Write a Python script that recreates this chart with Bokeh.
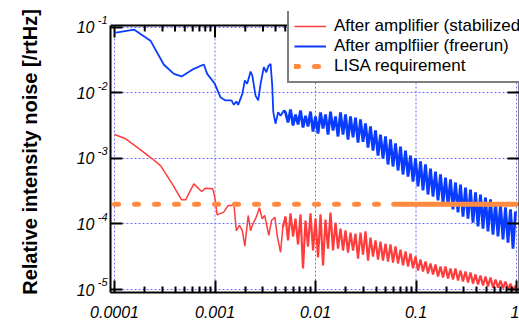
import numpy as np
from bokeh.plotting import figure
from bokeh.models import (LogAxis, FixedTicker, CustomJSTickFormatter, Legend,
                          LegendItem, Range1d, Span)
from bokeh.embed import file_html
from bokeh.resources import INLINE

# ---------------- data ----------------
# freerun trace, low-frequency part
blue_f_lo = [1.0e-4, 1.56e-4, 2.28e-4, 3.1e-4, 3.9e-4, 4.65e-4, 6.15e-4, 7.74e-4, 8.36e-4,
             9.95e-4, 1.135e-3, 1.27e-3, 1.46e-3, 1.54e-3, 1.63e-3, 1.70e-3, 1.87e-3,
             1.98e-3, 2.09e-3, 2.26e-3, 2.35e-3, 2.53e-3, 2.69e-3, 2.84e-3, 3.06e-3,
             3.24e-3, 3.39e-3, 3.57e-3, 3.71e-3, 3.80e-3, 4.0e-3, 4.25e-3, 4.49e-3, 4.84e-3]
blue_v_lo = [0.083, 0.093, 0.063, 0.027, 0.0196, 0.0179, 0.0234, 0.0272, 0.0196,
             0.0138, 0.0086, 0.0077, 0.0077, 0.0066, 0.0074, 0.0066, 0.0097,
             0.0155, 0.0138, 0.0213, 0.0185, 0.0091, 0.0077, 0.0138, 0.0248,
             0.0207, 0.0257, 0.0279, 0.013, 0.0051, 0.0034, 0.0051, 0.0045, 0.0054]

# freerun trace, dense high-frequency part (5 mHz .. 1 Hz)
blue_v_hf = [5.04e-3, 3.55e-3, 5.6e-3, 3.19e-3, 4.7e-3, 3.31e-3, 5.4e-3, 2.97e-3, 4.5e-3, 3.08e-3,
             5.2e-3, 2.58e-3, 4.38e-3, 2.41e-3, 5.04e-3, 2.87e-3, 4.7e-3, 2.32e-3, 5.2e-3, 2.68e-3,
             4.38e-3, 2.17e-3, 5.04e-3, 2.32e-3, 4.7e-3, 1.95e-3, 4.38e-3, 2.1e-3, 4.2e-3, 1.75e-3,
             3.95e-3, 1.8e-3, 3.43e-3, 1.47e-3, 3.08e-3, 1.32e-3, 2.68e-3, 1.11e-3, 2.32e-3, 1.0e-3,
             2.17e-3, 8.1e-4, 1.95e-3, 7.55e-4, 1.7e-3, 6.56e-4, 1.52e-3, 5.7e-4, 1.32e-3, 5.3e-4,
             1.11e-3, 4.45e-4, 1.0e-3, 3.74e-4, 9.0e-4, 3.25e-4, 8.1e-4, 2.82e-4, 7.0e-4, 2.63e-4,
             6.3e-4, 2.29e-4, 5.7e-4, 2.06e-4, 5.1e-4, 1.92e-4, 4.8e-4, 1.67e-4, 4.3e-4, 1.5e-4,
             4.0e-4, 1.3e-4, 3.6e-4, 1.21e-4, 3.36e-4, 1.05e-4, 3.03e-4, 9.2e-5, 2.82e-4, 8.5e-5,
             2.54e-4, 7.7e-5, 2.37e-4, 6.9e-5, 2.13e-4, 6.45e-5, 1.99e-4, 5.8e-5, 1.79e-4, 5.2e-5,
             1.67e-4, 4.2e-5, 1.55e-4]

# stabilized trace, low-frequency part
red_f_lo = [1.0e-4, 1.29e-4, 1.75e-4, 2.37e-4, 2.87e-4, 3.75e-4, 4.65e-4, 5.1e-4, 6.15e-4,
            7.35e-4, 8.05e-4, 9.5e-4, 9.95e-4, 1.05e-3, 1.22e-3, 1.35e-3, 1.46e-3, 1.54e-3,
            1.63e-3, 1.75e-3, 1.87e-3, 1.98e-3, 2.14e-3, 2.26e-3, 2.38e-3, 2.57e-3, 2.77e-3,
            2.95e-3, 3.12e-3, 3.43e-3, 3.65e-3, 3.94e-3, 4.15e-3, 4.49e-3, 4.73e-3]
red_v_lo = [2.32e-3, 2.0e-3, 1.41e-3, 9.9e-4, 7.8e-4, 4.1e-4, 2.34e-4, 2.34e-4, 4.1e-4,
            3.13e-4, 3.52e-4, 3.44e-4, 2.57e-4, 1.38e-4, 1.52e-4, 1.91e-4, 1.91e-4, 2.04e-4,
            7.9e-5, 9.5e-5, 7.9e-5, 4.6e-5, 1.35e-4, 7.9e-5, 1.0e-4, 1.27e-4, 1.77e-4,
            1.2e-4, 1.35e-4, 6.7e-5, 1.13e-4, 1.27e-4, 6.7e-5, 3.7e-5, 8.9e-5]

# stabilized trace, dense high-frequency part (5 mHz .. 1 Hz)
red_v_hf = [1.3e-4, 5.6e-5, 1.45e-4, 6.45e-5, 1.21e-4, 4.86e-5, 1.4e-4, 2.1e-5, 1.13e-4, 4.53e-5,
            1.45e-4, 3.94e-5, 1.21e-4, 3.08e-5, 1.4e-4, 2.33e-5, 1.17e-4, 4.2e-5, 1.5e-4, 3.94e-5,
            1.05e-4, 4.2e-5, 8.5e-5, 3.94e-5, 7.96e-5, 3.67e-5, 7.4e-5, 3.94e-5, 7.15e-5, 2.97e-5,
            7.4e-5, 3.42e-5, 7.7e-5, 2.77e-5, 6.2e-5, 3.19e-5, 5.6e-5, 2.87e-5, 5.4e-5, 2.77e-5,
            5.0e-5, 2.67e-5, 4.86e-5, 2.58e-5, 4.53e-5, 2.5e-5, 4.07e-5, 2.33e-5, 3.8e-5, 2.25e-5,
            3.55e-5, 2.1e-5, 3.19e-5, 1.95e-5, 2.87e-5, 1.88e-5, 2.67e-5, 1.76e-5, 2.5e-5, 1.7e-5,
            2.41e-5, 1.58e-5, 2.25e-5, 1.52e-5, 2.25e-5, 1.47e-5, 2.1e-5, 1.42e-5, 2.1e-5, 1.37e-5,
            1.95e-5, 1.32e-5, 1.88e-5, 1.28e-5, 1.82e-5, 1.23e-5, 1.7e-5, 1.19e-5, 1.64e-5, 1.15e-5,
            1.58e-5, 1.11e-5, 1.52e-5, 1.07e-5, 1.42e-5, 1.07e-5, 1.37e-5, 1.04e-5, 1.32e-5, 1.0e-5,
            1.23e-5, 9.7e-6, 1.15e-5]

hf_f_start, hf_f_stop = 5.03e-3, 0.977

# LISA requirement
lisa_f = [1.0e-4, 0.06, 1.0]
lisa_v = [2.0e-4, 2.0e-4, 2.0e-4]

series_labels = ["After amplifier (stabilized)", "After amplfiier (freerun)", "LISA requirement"]

x_ticks = [1e-4, 1e-3, 1e-2, 1e-1, 1.0]
x_tick_labels = ["0.0001", "0.001", "0.01", "0.1", "1"]
y_ticks = [1e-5, 1e-4, 1e-3, 1e-2, 1e-1]
y_tick_labels = ["10", "10", "10", "10", "10"]
y_tick_exponents = ["-5", "-4", "-3", "-2", "-1"]

# ---------------- build ----------------
hf_f = list(np.geomspace(hf_f_start, hf_f_stop, len(blue_v_hf)))
blue_f = blue_f_lo + hf_f
blue_v = blue_v_lo + blue_v_hf
red_f = red_f_lo + hf_f
red_v = red_v_lo + red_v_hf
n_b = len(blue_f_lo)
n_r = len(red_f_lo)

FONT = "Liberation Sans"
BLUE = "#0A3CFF"
RED = "#FF3C3C"
ORANGE = "#FF8A40"
GRID = "#6E6EFF"

PX_DEC_Y = 65.5                 # pixels per decade on the y axis
X0, X1 = 9.12e-5, 1.071
Y0 = 9.0e-6
Y_AX = 0.1073                   # level of the top axis line
Y1 = 0.1754                     # frame reaches a little above it (room for the legend)
TICK_MAJ = 10 ** (-12 / PX_DEC_Y)
TICK_MIN = 10 ** (-6 / PX_DEC_Y)

p = figure(width=519, height=335, x_axis_type="log", y_axis_type="log",
           x_range=Range1d(X0, X1), y_range=Range1d(Y0, Y1),
           output_backend="svg", toolbar_location=None,
           min_border_left=110, min_border_right=0, min_border_top=11, min_border_bottom=43)
p.outline_line_color = None

minor_x = [k * d for d in [1e-4, 1e-3, 1e-2, 1e-1] for k in range(2, 10)]

fmt_code = """
const lt = Math.log10(tick);
for (let i = 0; i < vals.length; i++) {
  if (Math.abs(lt - Math.log10(vals[i])) < 1e-6) return labs[i] + suffix;
}
return "";
"""
xfmt = CustomJSTickFormatter(args=dict(vals=x_ticks, labs=x_tick_labels, suffix=""), code=fmt_code)
yfmt = CustomJSTickFormatter(args=dict(vals=y_ticks, labs=y_tick_labels, suffix=""), code=fmt_code)
# exponent placed one half line higher (second, empty line below it)
efmt = CustomJSTickFormatter(args=dict(vals=y_ticks, labs=y_tick_exponents, suffix="\n "), code=fmt_code)
blank = CustomJSTickFormatter(code='return "";')


def style_axis(ax):
    ax.axis_line_width = 2
    ax.axis_line_color = "black"
    ax.major_tick_line_width = 2
    ax.minor_tick_line_width = 2
    ax.major_tick_in = 12
    ax.major_tick_out = 0
    ax.minor_tick_in = 6
    ax.minor_tick_out = 0
    ax.major_label_text_font = FONT
    ax.major_label_text_font_size = "16px"
    ax.major_label_text_font_style = "italic"
    ax.major_label_text_color = "black"


xa = p.xaxis[0]
xa.ticker = FixedTicker(ticks=x_ticks, minor_ticks=minor_x)
xa.formatter = xfmt
style_axis(xa)
xa.major_label_standoff = 13

# outer left axis: mantissa "10" and the axis title
ya = p.left[0]
ya.ticker = FixedTicker(ticks=y_ticks, minor_ticks=[])
ya.formatter = yfmt
style_axis(ya)
ya.bounds = (Y0, Y_AX)
ya.axis_line_color = None
ya.major_tick_line_color = None
ya.minor_tick_line_color = None
ya.major_label_standoff = 0
ya.axis_label = "Relative intensity noise [/rtHz]"
ya.axis_label_text_font = FONT
ya.axis_label_text_font_size = "20px"
ya.axis_label_text_font_style = "bold"
ya.axis_label_text_color = "black"
ya.axis_label_standoff = 33

# inner left axis: line, ticks and exponents
ye = LogAxis(ticker=FixedTicker(ticks=y_ticks, minor_ticks=[]), formatter=efmt)
style_axis(ye)
ye.bounds = (Y0, Y_AX)
ye.major_label_text_font_size = "11px"
ye.major_label_standoff = 3
p.left = [ye, ya]

right = LogAxis(ticker=FixedTicker(ticks=y_ticks, minor_ticks=[]), formatter=blank)
style_axis(right)
right.bounds = (Y0, Y_AX)
right.major_label_text_font_size = "0px"
right.major_label_standoff = 0
p.add_layout(right, "right")

# grid: horizontal by the grid model, vertical ones stop at the top axis line
p.ygrid[0].ticker = FixedTicker(ticks=y_ticks, minor_ticks=[])
p.ygrid[0].grid_line_color = GRID
p.ygrid[0].grid_line_dash = "2 2"
p.ygrid[0].grid_line_width = 1
p.xgrid[0].visible = False
p.segment(x0=x_ticks, y0=[Y0] * len(x_ticks), x1=x_ticks, y1=[Y_AX] * len(x_ticks),
          line_color=GRID, line_dash="2 2", line_width=1)

# top axis: line plus inward ticks
p.add_layout(Span(location=Y_AX, dimension="width", line_color="black", line_width=2))
p.segment(x0=x_ticks, y0=[Y_AX] * len(x_ticks), x1=x_ticks,
          y1=[Y_AX * TICK_MAJ] * len(x_ticks), line_color="black", line_width=2)
p.segment(x0=minor_x, y0=[Y_AX] * len(minor_x), x1=minor_x,
          y1=[Y_AX * TICK_MIN] * len(minor_x), line_color="black", line_width=2)

rb = p.line(blue_f[:n_b + 1], blue_v[:n_b + 1], line_color=BLUE, line_width=1.8)
p.line(blue_f[n_b - 1:], blue_v[n_b - 1:], line_color=BLUE, line_width=2.8)
rr = p.line(red_f[:n_r + 1], red_v[:n_r + 1], line_color=RED, line_width=1.5)
p.line(red_f[n_r - 1:], red_v[n_r - 1:], line_color=RED, line_width=2.2)
rl = p.line(lisa_f[:2], lisa_v[:2], line_color=ORANGE, line_width=5,
            line_dash="4 16", line_cap="round")
rl2 = p.line(lisa_f[1:], lisa_v[1:], line_color=ORANGE, line_width=5, line_cap="round")

legend = Legend(items=[LegendItem(label=series_labels[0], renderers=[rr]),
                       LegendItem(label=series_labels[1], renderers=[rb]),
                       LegendItem(label=series_labels[2], renderers=[rl])],
                location=(177, 209))
legend.label_text_font = FONT
legend.label_text_font_size = "17px"
legend.label_text_color = "black"
legend.border_line_color = "black"
legend.border_line_width = 2
legend.background_fill_alpha = 1
legend.padding = 5
legend.spacing = 0
legend.margin = 0
legend.label_height = 20
legend.glyph_height = 20
legend.glyph_width = 32
legend.label_standoff = 8
p.add_layout(legend, "center")

open("out.html", "w").write(file_html(p, INLINE))
